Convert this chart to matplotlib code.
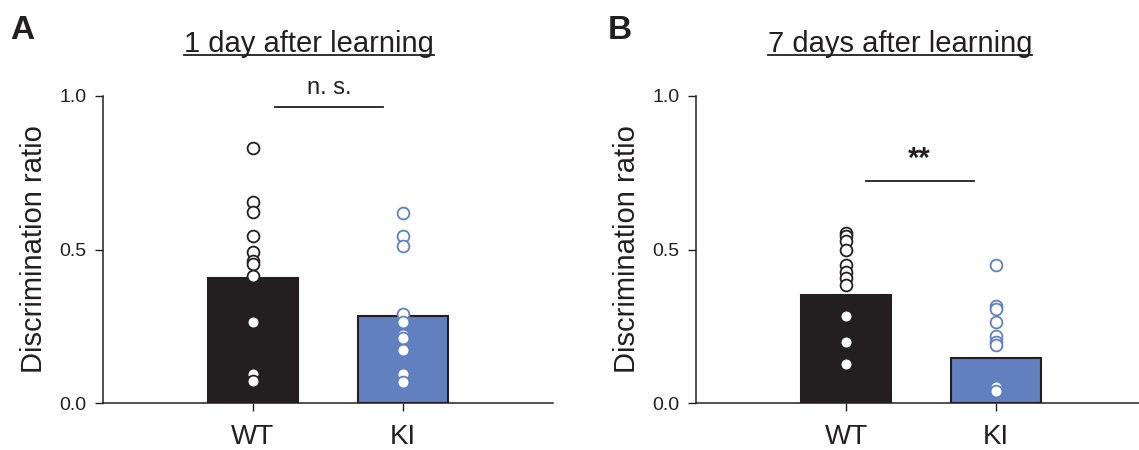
import matplotlib
matplotlib.use("Agg")
import matplotlib.pyplot as plt
from matplotlib.lines import Line2D

plt.rcParams['font.family'] = ['Liberation Sans', 'DejaVu Sans']

categories = ["WT", "KI"]
titles = ["1 day after learning", "7 days after learning"]
panel_letters = ["A", "B"]
sig_labels = ["n. s.", "**"]

# Panel A (1 day)
day1_means = [0.407, 0.282]
day1_wt = [0.830, 0.656, 0.621, 0.545, 0.493, 0.464, 0.453, 0.413, 0.265, 0.094, 0.073]
day1_ki = [0.618, 0.545, 0.512, 0.289, 0.265, 0.222, 0.211, 0.174, 0.094, 0.067]
# Panel B (7 days)
day7_means = [0.353, 0.146]
day7_wt = [0.554, 0.543, 0.527, 0.497, 0.451, 0.428, 0.407, 0.384, 0.282, 0.198, 0.128]
day7_ki = [0.451, 0.317, 0.306, 0.265, 0.219, 0.200, 0.189, 0.051, 0.040]

sig_y = [0.964, 0.723]
sig_x = [(1.15, 1.87), (1.13, 1.85)]

BAR_COLORS = ["#231f20", "#6180c0"]
EDGE_COLORS = ["#231f20", "#6180c0"]

W, H = 1139, 450
fig = plt.figure(figsize=(W / 100, H / 100), dpi=100)

def fx(px):
    return px / W

def fy(py):
    return 1 - py / H

axA = fig.add_axes([fx(103), fy(403), fx(553) - fx(103), fy(96) - fy(403)])
axB = fig.add_axes([fx(696), fy(403), fx(1139) - fx(696), fy(96) - fy(403)])

panels = [
    (axA, day1_means, [day1_wt, day1_ki], (0, 3.0)),
    (axB, day7_means, [day7_wt, day7_ki], (0, 2.953)),
]

for i, (ax, means, pts, xlim) in enumerate(panels):
    xs = [1, 2]
    ax.bar(xs, means, width=0.6, color=BAR_COLORS, edgecolor="#231f20", linewidth=1.5, zorder=2)
    for x, vals, ec in zip(xs, pts, EDGE_COLORS):
        ax.plot([x] * len(vals), vals, linestyle="none", marker="o", markersize=8.5,
                markerfacecolor="white", markeredgecolor=ec, markeredgewidth=1.3, zorder=3)
    ax.set_xlim(*xlim)
    ax.set_ylim(0, 1.0)
    ax.set_yticks([0.0, 0.5, 1.0])
    ax.set_yticklabels(["0.0", "0.5", "1.0"])
    ax.set_xticks(xs)
    ax.set_xticklabels(categories, fontsize=20)
    ax.spines["top"].set_visible(False)
    ax.spines["right"].set_visible(False)
    for s in ("left", "bottom"):
        ax.spines[s].set_linewidth(1.1)
        ax.spines[s].set_color("#231f20")
    ax.tick_params(axis="y", direction="out", length=6, width=1.0, labelsize=14, pad=6, colors="#231f20")
    ax.tick_params(axis="x", direction="out", length=6, width=1.0, pad=9, colors="#231f20")
    ax.set_ylabel("Discrimination ratio", fontsize=21, labelpad=8, color="#231f20")
    # significance bar
    x0, x1 = sig_x[i]
    ax.plot([x0, x1], [sig_y[i], sig_y[i]], color="#231f20", linewidth=1.3, clip_on=False)
    ax.text((x0 + x1) / 2, sig_y[i] + 0.025, sig_labels[i], ha="center", va="bottom",
            fontsize=17 if i == 0 else 21, fontweight="normal" if i == 0 else "bold",
            color="#231f20", clip_on=False)

# Titles with underline, and panel letters
title_cx = [309, 900]
letter_x = [10, 608]
fig.canvas.draw()
renderer = fig.canvas.get_renderer()
for i in range(2):
    t = fig.text(fx(title_cx[i]), fy(52), titles[i], ha="center", va="baseline",
                 fontsize=21, color="#231f20")
    bb = t.get_window_extent(renderer=renderer)
    fig.add_artist(Line2D([bb.x0 / W, bb.x1 / W], [fy(55), fy(55)], color="#231f20", linewidth=1.3))
    fig.text(fx(letter_x[i]), fy(39), panel_letters[i], ha="left", va="baseline",
             fontsize=24, fontweight="bold", color="#231f20")

fig.savefig("out.png", dpi=100)
